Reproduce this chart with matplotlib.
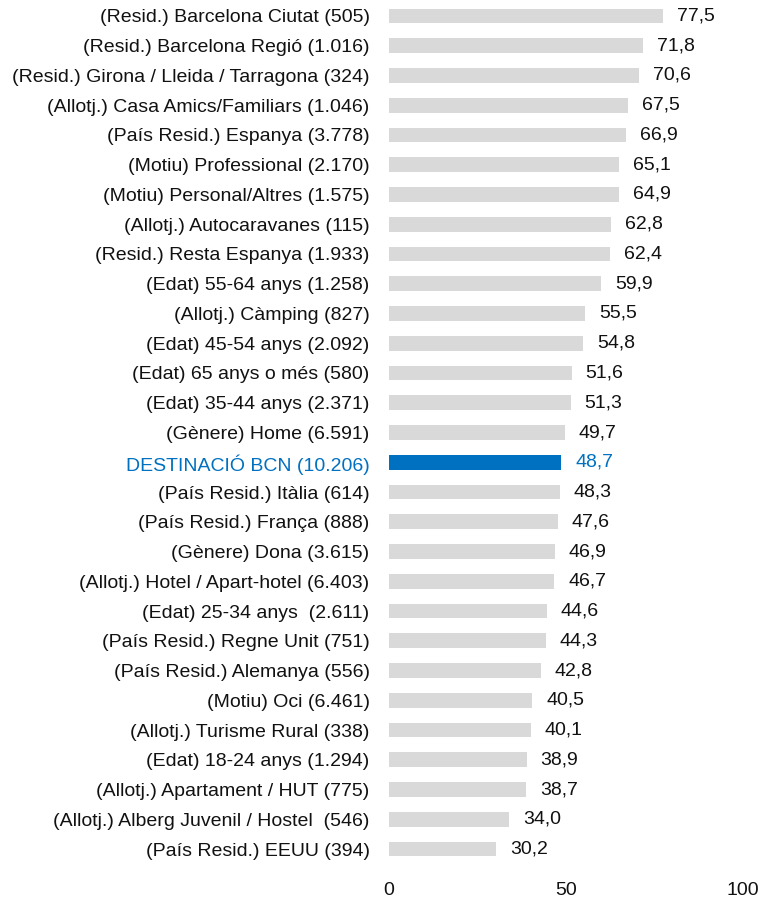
import matplotlib
matplotlib.use("Agg")
import matplotlib.pyplot as plt

categories = [
    "(Resid.) Barcelona Ciutat (505)",
    "(Resid.) Barcelona Regió (1.016)",
    "(Resid.) Girona / Lleida / Tarragona (324)",
    "(Allotj.) Casa Amics/Familiars (1.046)",
    "(País Resid.) Espanya (3.778)",
    "(Motiu) Professional (2.170)",
    "(Motiu) Personal/Altres (1.575)",
    "(Allotj.) Autocaravanes (115)",
    "(Resid.) Resta Espanya (1.933)",
    "(Edat) 55-64 anys (1.258)",
    "(Allotj.) Càmping (827)",
    "(Edat) 45-54 anys (2.092)",
    "(Edat) 65 anys o més (580)",
    "(Edat) 35-44 anys (2.371)",
    "(Gènere) Home (6.591)",
    "DESTINACIÓ BCN (10.206)",
    "(País Resid.) Itàlia (614)",
    "(País Resid.) França (888)",
    "(Gènere) Dona (3.615)",
    "(Allotj.) Hotel / Apart-hotel (6.403)",
    "(Edat) 25-34 anys  (2.611)",
    "(País Resid.) Regne Unit (751)",
    "(País Resid.) Alemanya (556)",
    "(Motiu) Oci (6.461)",
    "(Allotj.) Turisme Rural (338)",
    "(Edat) 18-24 anys (1.294)",
    "(Allotj.) Apartament / HUT (775)",
    "(Allotj.) Alberg Juvenil / Hostel  (546)",
    "(País Resid.) EEUU (394)",
]
values = [77.5, 71.8, 70.6, 67.5, 66.9, 65.1, 64.9, 62.8, 62.4, 59.9, 55.5, 54.8,
          51.6, 51.3, 49.7, 48.7, 48.3, 47.6, 46.9, 46.7, 44.6, 44.3, 42.8, 40.5,
          40.1, 38.9, 38.7, 34.0, 30.2]
highlight = "DESTINACIÓ BCN (10.206)"
xticks = [0, 50, 100]

plt.rcParams["font.family"] = ["Liberation Sans", "DejaVu Sans"]

GRAY = "#d9d9d9"
BLUE = "#0070c0"
TEXT = "#111111"
FS = 14

fig = plt.figure(figsize=(7.62, 9.0), dpi=100)
ax = fig.add_axes([389/762, 1 - 863.9/900, (743-389)/762, (863.9-1.1)/900])

ys = list(range(len(categories)))
colors = [BLUE if c == highlight else GRAY for c in categories]
ax.barh(ys, values, height=0.5, color=colors)
for y, v, c in zip(ys, values, categories):
    col = BLUE if c == highlight else TEXT
    ax.annotate(f"{v:.1f}".replace(".", ","), (v, y), xytext=(10, 0),
                textcoords="offset points", va="center", ha="left",
                fontsize=FS, color=col)

ax.set_ylim(len(categories) - 0.5, -0.5)
ax.set_xlim(0, 100)
ax.set_yticks(ys)
ax.set_yticklabels(categories, fontsize=FS)
for lab, c in zip(ax.get_yticklabels(), categories):
    lab.set_color(BLUE if c == highlight else TEXT)
ax.set_xticks(xticks)
ax.set_xticklabels([str(t) for t in xticks], fontsize=FS, color=TEXT)
ax.tick_params(axis="y", length=0, pad=14)
ax.tick_params(axis="x", length=0, pad=13)
for s in ax.spines.values():
    s.set_visible(False)

fig.savefig("out.png", dpi=100)
